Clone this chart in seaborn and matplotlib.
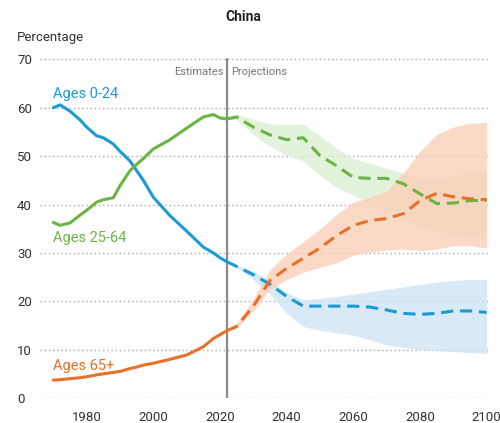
import matplotlib
matplotlib.use("Agg")
import matplotlib.pyplot as plt
import numpy as np
import pandas as pd
import seaborn as sns

# estimates (solid lines)
years_est = [1970, 1972, 1975, 1978, 1980, 1983, 1985, 1988, 1990, 1993, 1995, 1997,
             2000, 2005, 2010, 2015, 2018, 2020, 2022]
young_est = [60.0, 60.6, 59.3, 57.5, 56.0, 54.2, 53.8, 52.5, 51.0, 49.0, 47.0, 45.0,
             41.5, 37.7, 34.5, 31.2, 30.0, 29.0, 28.2]
working_est = [36.3, 35.7, 36.2, 37.8, 38.8, 40.5, 41.0, 41.4, 43.9, 47.0, 48.3, 49.5,
               51.5, 53.4, 55.8, 58.1, 58.6, 57.9, 57.7]
old_est = [3.7, 3.8, 4.0, 4.2, 4.4, 4.8, 5.0, 5.3, 5.5, 6.1, 6.4, 6.8,
           7.2, 8.0, 8.9, 10.6, 12.3, 13.1, 13.9]

# projections (dashed lines + uncertainty bands)
years_proj = [2022, 2025, 2030, 2035, 2040, 2045, 2050, 2055, 2060, 2065, 2070,
              2075, 2080, 2085, 2090, 2095, 2100]
young_proj = [28.2, 27.2, 25.5, 23.5, 21.0, 19.0, 19.0, 19.0, 19.0, 18.8, 18.2,
              17.5, 17.3, 17.5, 18.0, 18.0, 17.7]
young_lo = [28.2, 27.0, 24.5, 21.5, 17.5, 14.8, 14.0, 13.5, 13.0, 12.0, 11.0,
            10.5, 10.0, 9.8, 9.6, 9.4, 9.2]
young_hi = [28.2, 27.5, 26.2, 24.3, 21.8, 20.3, 20.6, 21.0, 21.5, 22.0, 22.5,
            23.0, 23.5, 24.0, 24.3, 24.5, 24.5]
working_proj = [57.7, 58.1, 56.0, 54.4, 53.4, 53.8, 50.1, 48.0, 45.6, 45.4, 45.4,
                44.3, 42.2, 40.2, 40.3, 40.8, 40.9]
working_lo = [57.7, 57.5, 54.5, 52.0, 50.2, 49.0, 46.0, 43.5, 42.0, 40.0, 38.5,
              37.0, 35.5, 34.5, 33.8, 33.2, 33.0]
working_hi = [57.7, 58.6, 57.6, 56.7, 56.5, 56.6, 54.2, 51.6, 49.5, 48.5, 47.5,
              46.5, 45.5, 45.5, 46.0, 46.4, 46.8]
old_proj = [13.9, 14.8, 19.0, 24.3, 26.8, 28.9, 31.0, 33.6, 35.7, 36.7, 37.1,
            38.1, 40.8, 42.3, 41.6, 41.2, 41.0]
old_lo = [13.9, 14.4, 18.0, 22.5, 24.5, 26.0, 27.0, 28.0, 29.5, 30.2, 30.6,
          30.8, 30.5, 30.8, 31.5, 31.5, 31.0]
old_hi = [13.9, 15.4, 20.5, 26.5, 29.8, 32.3, 35.0, 38.0, 40.5, 41.5, 42.8,
          46.5, 51.0, 54.5, 56.0, 56.8, 57.0]

series_names = ["Ages 0-24", "Ages 25-64", "Ages 65+"]
colors = ["#1b9ad6", "#6cb443", "#e8702a"]
band_colors = ["#cfe4f5", "#dcefd2", "#fbd0b9"]
label_y = [62.8, 33.0, 6.6]

sns.set_theme(style="white")
plt.rcParams["font.family"] = ["Roboto", "DejaVu Sans"]

fig = plt.figure(figsize=(5, 4.23), dpi=100)
ax = fig.add_axes([0.08, 0.059, 0.90, 0.804])

est = [young_est, working_est, old_est]
proj = [young_proj, working_proj, old_proj]
lows = [young_lo, working_lo, old_lo]
highs = [young_hi, working_hi, old_hi]

# bands first, blended a bit so the overlaps show
for lo, hi, bc in zip(lows, highs, band_colors):
    ax.fill_between(years_proj, lo, hi, color=bc, alpha=0.8, linewidth=0, zorder=1)

for name, e, p, c in zip(series_names, est, proj, colors):
    sns.lineplot(x=years_est, y=e, color=c, linewidth=2.2, ax=ax, zorder=3)
    sns.lineplot(x=years_proj, y=p, color=c, linewidth=2.2, ax=ax, zorder=3,
                 linestyle=(0, (4, 2.2)))

for name, c, ly in zip(series_names, colors, label_y):
    ax.text(1970, ly, name, color=c, fontsize=10.5, ha="left", va="center")

ax.axvline(2022, ymin=0, ymax=70 / 70.3, color="#8a8a8a", linewidth=1.6, zorder=2)
ax.text(2021, 67.3, "Estimates", color="#777777", fontsize=8, ha="right", va="center")
ax.text(2023.3, 67.3, "Projections", color="#777777", fontsize=8, ha="left", va="center")

ax.set_xlim(1966, 2101)
ax.set_ylim(0, 70.3)
ax.set_xticks([1980, 2000, 2020, 2040, 2060, 2080, 2100])
ax.set_yticks(range(0, 71, 10))
ax.yaxis.grid(True, linestyle=(0, (1, 2)), color="#a8a8a8", linewidth=1)
ax.xaxis.grid(False)
for s in ax.spines.values():
    s.set_visible(False)
ax.tick_params(axis="y", length=0, pad=16.5, labelsize=9.5, labelcolor="#333333")
ax.tick_params(axis="x", length=0, pad=9, labelsize=9.5, labelcolor="#333333")
for lbl in ax.get_yticklabels():
    lbl.set_ha("left")

fig.text(0.486, 0.96, "China", fontsize=10, fontweight="bold", ha="center", va="center",
         color="#222222")
fig.text(0.034, 0.912, "Percentage", fontsize=9.5, ha="left", va="center", color="#333333")

fig.savefig("out.png", dpi=100)
